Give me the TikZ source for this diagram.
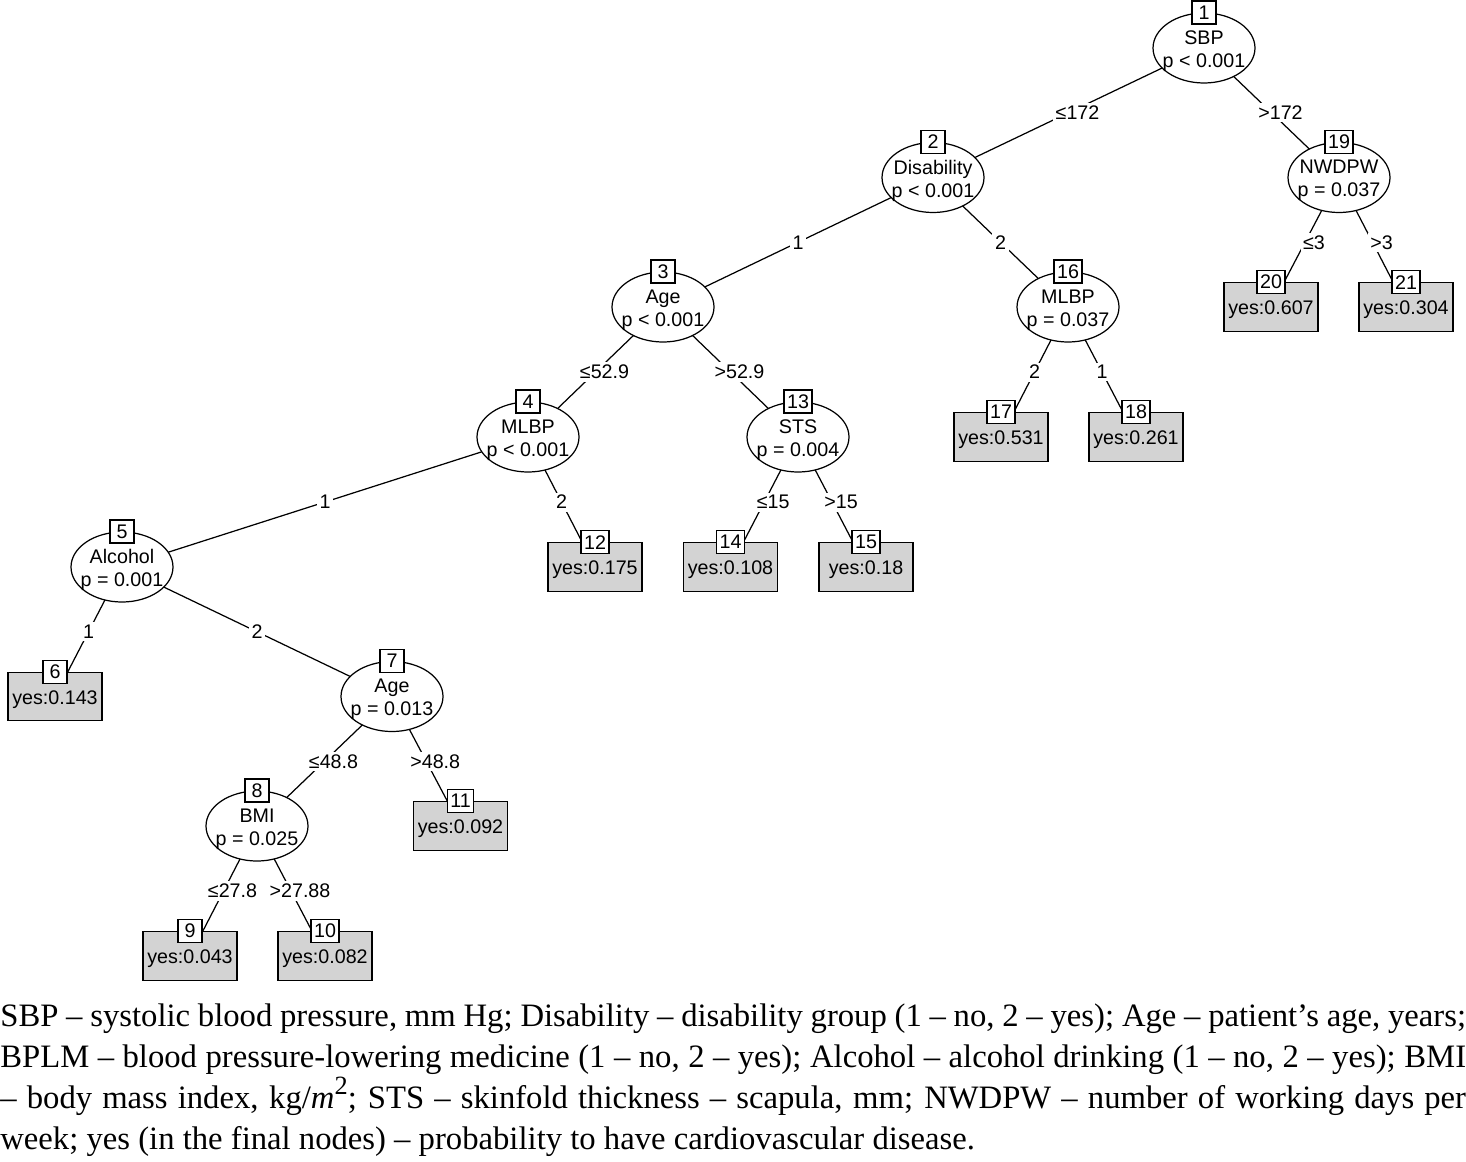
\documentclass[tikz,border=0pt]{standalone}
\usepackage{fontspec}
\setmainfont{Liberation Serif}
\newfontfamily\nodefont{Liberation Sans}
\usetikzlibrary{shapes.geometric,backgrounds}
\definecolor{termgray}{RGB}{211,211,211}
\begin{document}
\begin{tikzpicture}[x=0.02cm,y=-0.02cm,
  every node/.style={font=\nodefont\fontsize{11.2}{13.1}\selectfont},
  innerell/.style={ellipse, draw, fill=white, minimum width=2.04cm, minimum height=1.4cm, inner sep=0pt, line width=0.7pt},
  elltext/.style={align=center, inner sep=0pt, yshift=-0.06cm},
  numbox/.style={draw, fill=white, minimum width=0.48cm, minimum height=0.46cm, inner xsep=0.06cm, inner ysep=0pt, line width=0.7pt},
  termbox/.style={draw, fill=termgray, minimum width=1.88cm, minimum height=0.97cm, inner sep=0pt, line width=0.7pt, text height=9pt, text depth=0pt},
  edgeline/.style={line width=0.7pt},
  elab/.style={fill=white, inner sep=1.5pt},
  ltlab/.style={elab, xshift=0.18cm}
]
\useasboundingbox (0,0) rectangle (1466,1161);

% inner nodes
\node[innerell] (n1) at (1204,48) {};
\node[elltext] (l1) at (n1) {SBP\\p < 0.001};
\node[numbox] (b1) at (n1.north) {1};

\node[innerell] (n2) at (933,177.5) {};
\node[elltext] (l2) at (n2) {Disability\\p < 0.001};
\node[numbox] (b2) at (n2.north) {2};

\node[innerell] (n3) at (663,307) {};
\node[elltext] (l3) at (n3) {Age\\p < 0.001};
\node[numbox] (b3) at (n3.north) {3};

\node[innerell] (n4) at (528,437) {};
\node[elltext] (l4) at (n4) {MLBP\\p < 0.001};
\node[numbox] (b4) at (n4.north) {4};

\node[innerell] (n5) at (122,567) {};
\node[elltext] (l5) at (n5) {Alcohol\\p = 0.001};
\node[numbox] (b5) at (n5.north) {5};

\node[innerell] (n7) at (392,696.5) {};
\node[elltext] (l7) at (n7) {Age\\p = 0.013};
\node[numbox] (b7) at (n7.north) {7};

\node[innerell] (n8) at (257,826) {};
\node[elltext] (l8) at (n8) {BMI\\p = 0.025};
\node[numbox] (b8) at (n8.north) {8};

\node[innerell] (n13) at (798,437) {};
\node[elltext] (l13) at (n13) {STS\\p = 0.004};
\node[numbox] (b13) at (n13.north) {13};

\node[innerell] (n16) at (1068,307) {};
\node[elltext] (l16) at (n16) {MLBP\\p = 0.037};
\node[numbox] (b16) at (n16.north) {16};

\node[innerell] (n19) at (1339,177.5) {};
\node[elltext] (l19) at (n19) {NWDPW\\p = 0.037};
\node[numbox] (b19) at (n19.north) {19};

% terminal nodes
\node[termbox] (t6) at (55,696.5) {yes:0.143};
\node[numbox] (b6) at (t6.north) {6};
\node[termbox] (t9) at (190,956) {yes:0.043};
\node[numbox] (b9) at (t9.north) {9};
\node[termbox] (t10) at (325,956) {yes:0.082};
\node[numbox] (b10) at (t10.north) {10};
\node[termbox] (t11) at (460.5,826) {yes:0.092};
\node[numbox] (b11) at (t11.north) {11};
\node[termbox] (t12) at (595,567) {yes:0.175};
\node[numbox] (b12) at (t12.north) {12};
\node[termbox] (t14) at (730.5,567) {yes:0.108};
\node[numbox] (b14) at (t14.north) {14};
\node[termbox] (t15) at (866,567) {yes:0.18};
\node[numbox] (b15) at (t15.north) {15};
\node[termbox] (t17) at (1001,437) {yes:0.531};
\node[numbox] (b17) at (t17.north) {17};
\node[termbox] (t18) at (1136,437) {yes:0.261};
\node[numbox] (b18) at (t18.north) {18};
\node[termbox] (t20) at (1271,307) {yes:0.607};
\node[numbox] (b20) at (t20.north) {20};
\node[termbox] (t21) at (1406,307) {yes:0.304};
\node[numbox] (b21) at (t21.north) {21};

% edges
\begin{pgfonlayer}{background}
\draw[edgeline] (n1.center) -- node[ltlab] {≤172} (n2.center);
\draw[edgeline] (n1.center) -- node[ltlab] {>172} (n19.center);
\draw[edgeline] (n2.center) -- node[elab] {1} (n3.center);
\draw[edgeline] (n2.center) -- node[elab] {2} (n16.center);
\draw[edgeline] (n3.center) -- node[ltlab] {≤52.9} (n4.center);
\draw[edgeline] (n3.center) -- node[ltlab] {>52.9} (n13.center);
\draw[edgeline] (n4.center) -- node[elab] {1} (n5.center);
\draw[edgeline] (n4.center) -- node[elab] {2} (t12.center);
\draw[edgeline] (n5.center) -- node[elab] {1} (t6.center);
\draw[edgeline] (n5.center) -- node[elab] {2} (n7.center);
\draw[edgeline] (n7.center) -- node[ltlab] {≤48.8} (n8.center);
\draw[edgeline] (n7.center) -- node[ltlab] {>48.8} (t11.center);
\draw[edgeline] (n8.center) -- node[ltlab] {≤27.8} (t9.center);
\draw[edgeline] (n8.center) -- node[ltlab] {>27.88} (t10.center);
\draw[edgeline] (n13.center) -- node[ltlab] {≤15} (t14.center);
\draw[edgeline] (n13.center) -- node[ltlab] {>15} (t15.center);
\draw[edgeline] (n16.center) -- node[elab] {2} (t17.center);
\draw[edgeline] (n16.center) -- node[elab] {1} (t18.center);
\draw[edgeline] (n19.center) -- node[ltlab] {≤3} (t20.center);
\draw[edgeline] (n19.center) -- node[ltlab] {>3} (t21.center);
\end{pgfonlayer}

% caption
\node[anchor=north west, text width=29.32cm, inner sep=0pt, align=justify,
      font=\rmfamily\fontsize{18.6}{23.5}\selectfont] (cap) at (0,1003)
{\noindent SBP – systolic blood pressure, mm Hg; Disability – disability group (1 – no, 2 – yes); Age – patient’s age, years;\linebreak
BPLM – blood pressure-lowering medicine (1 – no, 2 – yes); Alcohol – alcohol drinking (1 – no, 2 – yes); BMI\linebreak
– body mass index, kg/\textit{m}\raisebox{0.42em}{\fontsize{15}{15}\selectfont 2}; STS – skinfold thickness – scapula, mm; NWDPW – number of working days per\linebreak
week; yes (in the final nodes) – probability to have cardiovascular disease.};
\end{tikzpicture}
\end{document}
